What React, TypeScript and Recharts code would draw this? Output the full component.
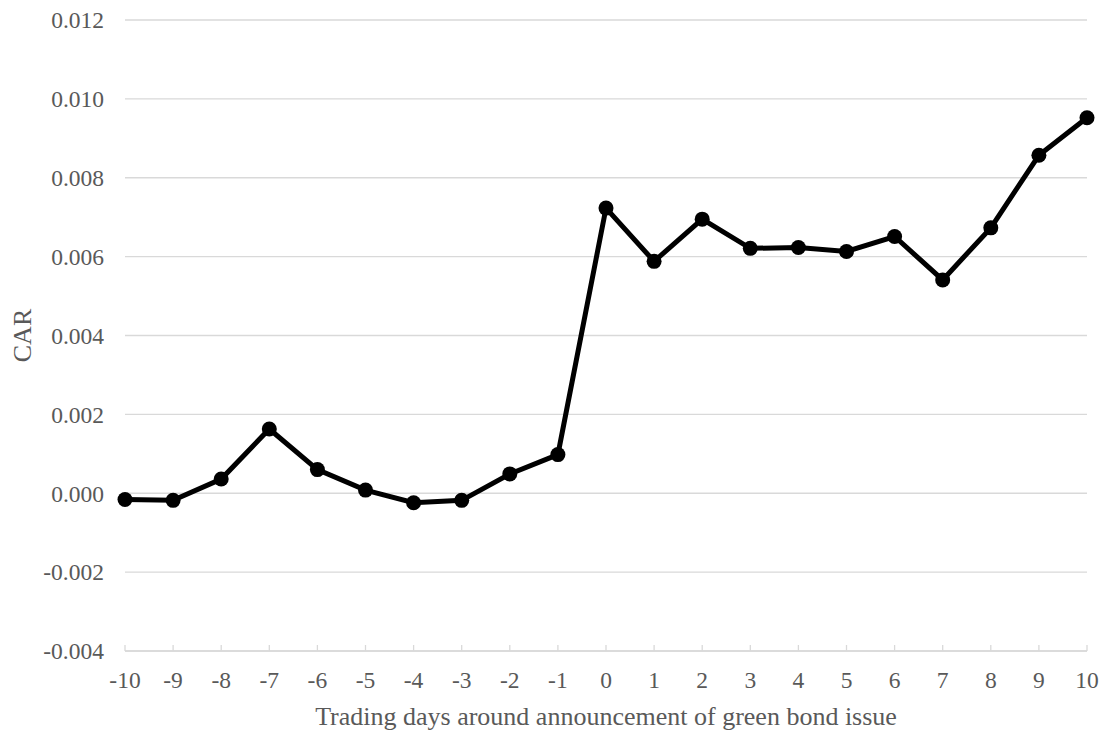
import { CartesianGrid, Label, Line, LineChart, XAxis, YAxis } from "recharts";

// Event window (trading days) and cumulative abnormal return
const days = [-10, -9, -8, -7, -6, -5, -4, -3, -2, -1, 0, 1, 2, 3, 4, 5, 6, 7, 8, 9, 10];
const car = [
  -0.00016, -0.00018, 0.00036, 0.00163, 0.0006, 0.00008, -0.00024, -0.00018, 0.00049, 0.00098,
  0.00723, 0.00588, 0.00695, 0.00621, 0.00623, 0.00613, 0.00651, 0.00541, 0.00673, 0.00857, 0.00952
];
const yTicks = [-0.004, -0.002, 0, 0.002, 0.004, 0.006, 0.008, 0.01, 0.012];

const FONT = "Liberation Serif, Tinos, DejaVu Serif, serif";
const TEXT = "#595959";
const GRID = "#d9d9d9";

const data = days.map((d, i) => ({ day: d, car: car[i] }));

export default function App() {
  return (
    <div style={{ position: "absolute", left: 0, top: 0, fontFamily: FONT }}>
      <style>{`svg text { font-family: "Liberation Serif", serif !important; }`}</style>
      <LineChart width={1105} height={736} data={data} margin={{ top: 20, right: 18, bottom: 0, left: 0 }}>
        <CartesianGrid vertical={false} stroke={GRID} strokeWidth={1.3} />
        <XAxis
          dataKey="day"
          type="number"
          domain={[-10, 10]}
          ticks={days}
          interval={0}
          height={85}
          stroke={GRID}
          strokeWidth={1.3}
          tickSize={-6}
          tickMargin={26}
          tick={{ fill: TEXT, fontSize: 23.5 }}
        >
          <Label
            value="Trading days around announcement of green bond issue"
            position="insideBottom"
            offset={11}
            fill={TEXT}
            fontSize={26}
          />
        </XAxis>
        <YAxis
          type="number"
          domain={[-0.004, 0.012]}
          ticks={yTicks}
          width={125}
          axisLine={false}
          tickLine={false}
          tickMargin={15}
          tickFormatter={(v: number) => v.toFixed(3)}
          tick={{ fill: TEXT, fontSize: 23.5 }}
          label={{
            content: ({ viewBox }: any) => {
              const cx = (viewBox?.x ?? 0) + 22;
              const cy = (viewBox?.y ?? 0) + (viewBox?.height ?? 0) / 2;
              return (
                <text
                  x={cx}
                  y={cy}
                  transform={`rotate(-90 ${cx} ${cy})`}
                  textAnchor="middle"
                  dominantBaseline="central"
                  fill={TEXT}
                  fontSize={26}
                >
                  CAR
                </text>
              );
            }
          }}
        />
        <Line
          type="linear"
          dataKey="car"
          stroke="#000000"
          strokeWidth={5}
          dot={{ r: 7.5, fill: "#000000", stroke: "#000000", strokeWidth: 0 }}
          activeDot={false}
          isAnimationActive={false}
        />
      </LineChart>
    </div>
  );
}
